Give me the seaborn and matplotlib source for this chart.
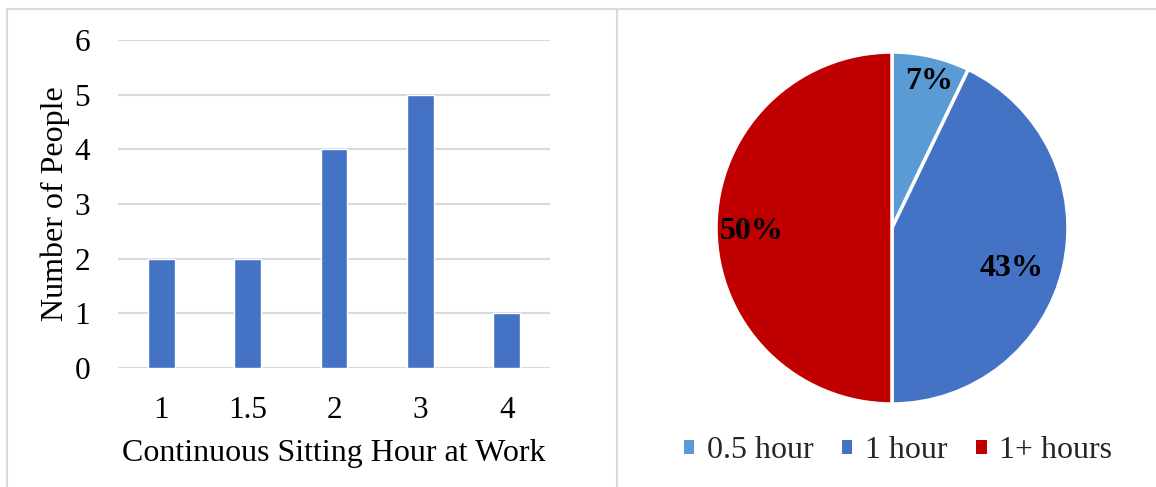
import numpy as np
import pandas as pd
import seaborn as sns
import matplotlib
matplotlib.use("Agg")
import matplotlib.pyplot as plt
from matplotlib.patches import Patch
from matplotlib.lines import Line2D

# Survey data: continuous sitting hours at work
sitting_hours = ["1", "1.5", "2", "3", "4"]
people_count = [2, 2, 4, 5, 1]

# Break duration groups
break_labels = ["0.5 hour", "1 hour", "1+ hours"]
break_counts = [1, 6, 7]

bar_color = "#4472C4"
pie_colors = ["#5B9BD5", "#4472C4", "#C00000"]
grid_color = "#D9D9D9"
text_color = "#000000"

sns.set_theme(style="white")
plt.rcParams["font.family"] = ["Liberation Serif", "DejaVu Serif"]

W, H = 1156, 487
fig = plt.figure(figsize=(W / 100, H / 100), dpi=100)
fig.patch.set_facecolor("white")

def fx(px):
    return px / W

def fy(py):
    return 1 - py / H

# Panel frames
frame_kw = dict(color=grid_color, lw=1.5, transform=fig.transFigure)
fig.add_artist(Line2D([fx(7), fx(7)], [fy(9), 0], **frame_kw))
fig.add_artist(Line2D([fx(7), 1], [fy(9), fy(9)], **frame_kw))
fig.add_artist(Line2D([fx(617), fx(617)], [fy(9), 0], **frame_kw))

# ---- Bar chart ----
ax = fig.add_axes([fx(118), fy(368), fx(550) - fx(118), fy(40) - fy(368)])
df = pd.DataFrame({"hours": sitting_hours, "people": people_count})
sns.barplot(data=df, x="hours", y="people", color=bar_color, width=0.31,
            saturation=1, ax=ax, zorder=3)
ax.set_ylim(0, 6)
ax.set_xlim(-0.5, len(sitting_hours) - 0.5)
ax.set_yticks(range(0, 7))
ax.yaxis.grid(True, color=grid_color, lw=1.5, zorder=0)
ax.set_axisbelow(True)
for s in ax.spines.values():
    s.set_visible(False)
ax.tick_params(axis="both", length=0, labelsize=22.5, colors=text_color)
ax.tick_params(axis="y", pad=20)
ax.tick_params(axis="x", pad=20)
ax.set_xlabel("Continuous Sitting Hour at Work", fontsize=23, color=text_color, labelpad=10)
ax.set_ylabel("Number of People", fontsize=23, color=text_color, labelpad=3)
ax.set_facecolor("none")

# ---- Pie chart ----
cx, cy, r = 892, 228, 176
pax = fig.add_axes([fx(cx - r), fy(cy + r), fx(2 * r), fy(cy - r) - fy(cy + r)])
wedges, _ = pax.pie(break_counts, colors=pie_colors, startangle=90,
                    counterclock=False,
                    wedgeprops=dict(edgecolor="white", linewidth=2.5))
pax.set_xlim(-1, 1)
pax.set_ylim(-1, 1)
pax.set_aspect("equal")
for w in wedges:
    w.set_clip_on(False)

# Percentage labels placed along each wedge
total = sum(break_counts)
label_radius = [0.86, 0.72, 0.80]
label_shift = [-1.5, -6.0, 1.6]
for w, cnt, lr, shift in zip(wedges, break_counts, label_radius, label_shift):
    ang = np.deg2rad((w.theta1 + w.theta2) / 2 + shift)
    pct = f"{round(100 * cnt / total)}%"
    pax.text(lr * np.cos(ang), lr * np.sin(ang), pct, ha="center", va="center",
             fontsize=23, fontweight="bold", color=text_color)

handles = [Patch(facecolor=c, edgecolor="none") for c in pie_colors]
fig.legend(handles, break_labels, loc="center", bbox_to_anchor=(fx(898), fy(451)),
           ncol=3, frameon=False, fontsize=23, handlelength=0.32, handleheight=0.32,
           handletextpad=0.4, columnspacing=0.9, borderaxespad=0)

fig.savefig("out.png", dpi=100, facecolor="white")
